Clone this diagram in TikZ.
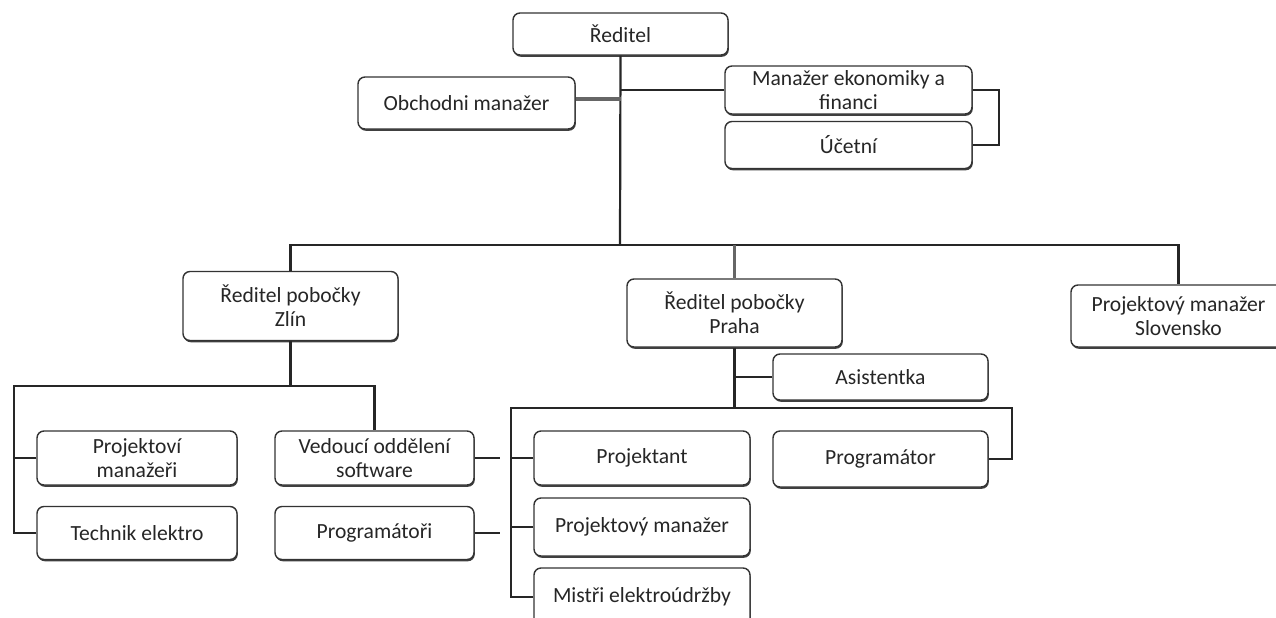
\documentclass[tikz,border=0pt]{standalone}
\usepackage{fontspec}
\setmainfont{Carlito}
\usetikzlibrary{shadows}
\tikzset{
  box/.style={draw=black!80, line width=0.7pt, rounded corners=3.5pt, fill=white,
    inner sep=0pt, align=center, font=\fontsize{10.8}{12}\selectfont, text=black!85,
    drop shadow={shadow xshift=0.4pt, shadow yshift=-0.9pt, fill=black!75, opacity=1}},
  conn/.style={draw=black!85, line width=1.1pt},
  conngray/.style={draw=black!60, line width=1.1pt},
  thickgray/.style={draw=black!60, line width=1.8pt}
}
\begin{document}
\begin{tikzpicture}[x=0.5pt, y=-0.5pt]
\useasboundingbox (0,0) rectangle (1276,617);
% boxes
\node[box, minimum width=107.5pt, minimum height=21pt] (red) at (620.5,34) {Ředitel};
\node[box, minimum width=108.5pt, minimum height=26pt] (obch) at (466.5,103) {Obchodni manažer};
\node[box, minimum width=123.5pt, minimum height=24pt] (mek) at (848.5,90) {Manažer ekonomiky a\\financi};
\node[box, minimum width=123.5pt, minimum height=23.5pt] (ucet) at (848.5,145) {Účetní};
\node[box, minimum width=107.5pt, minimum height=34.5pt] (zlin) at (290.5,306) {Ředitel pobočky\\Zlín};
\node[box, minimum width=107.5pt, minimum height=34pt] (praha) at (734.5,313) {Ředitel pobočky\\Praha};
\node[box, minimum width=107.5pt, minimum height=31pt] (slov) at (1178.5,316) {Projektový manažer\\Slovensko};
\node[box, minimum width=100pt, minimum height=27pt] (projm) at (137,458) {Projektoví\\manažeři};
\node[box, minimum width=100pt, minimum height=26.5pt] (tech) at (137,533) {Technik elektro};
\node[box, minimum width=99.5pt, minimum height=27pt] (ved) at (374.5,458) {Vedoucí oddělení\\software};
\node[box, minimum width=99.5pt, minimum height=26.5pt] (prog) at (374.5,533) {Programátoři};
\node[box, minimum width=107.5pt, minimum height=23pt] (asis) at (880.5,377) {Asistentka};
\node[box, minimum width=108pt, minimum height=27pt] (projt) at (642,458) {Projektant};
\node[box, minimum width=107.5pt, minimum height=28pt] (progr) at (880.5,459) {Programátor};
\node[box, minimum width=108pt, minimum height=29pt] (pm) at (642,527) {Projektový manažer};
\node[box, minimum width=108pt, minimum height=29pt] (mistri) at (642,597) {Mistři elektroúdržby};
% coordinates
\coordinate (bar) at (620,245);
\coordinate (zb) at (290.5,386);
\coordinate (zl) at (14,386);
\coordinate (pb) at (734.5,408);
\coordinate (pl) at (511,408);
\coordinate (pr) at (1012,408);
\coordinate (s1) at (500,458);
\coordinate (s2) at (500,533);
% top connectors
\draw[conn] (red.south) -- (bar);
\draw[thickgray] ([yshift=2pt]obch.east) -- ([yshift=2pt]obch.east -| red.south);
\draw[conn] (mek.west -| red.south) -- (mek.west);
\draw[conn] (mek.east) -- ++(26,0) |- (ucet.east);
\draw[conn] (zlin.north) -- (zlin.north |- bar) -- (slov.north |- bar) -- (slov.north);
\draw[conngray] (praha.north) -- (praha.north |- bar);
% Zlin
\draw[conn] (zlin.south) -- (zb);
\draw[conn] (tech.west) -| (zl) -- (ved.north |- zl) -- (ved.north);
\draw[conn] (projm.west) -- (projm.west -| zl);
\draw[conn] (ved.east) -- (s1);
\draw[conn] (prog.east) -- (s2);
% Praha
\draw[conn] (praha.south) -- (pb);
\draw[conn] (asis.west) -- (asis.west -| pb);
\draw[conn] (mistri.west) -| (pl) -- (pr) |- (progr.east);
\draw[conn] (projt.west) -- (projt.west -| pl);
\draw[conn] (pm.west) -- (pm.west -| pl);
\end{tikzpicture}
\end{document}
